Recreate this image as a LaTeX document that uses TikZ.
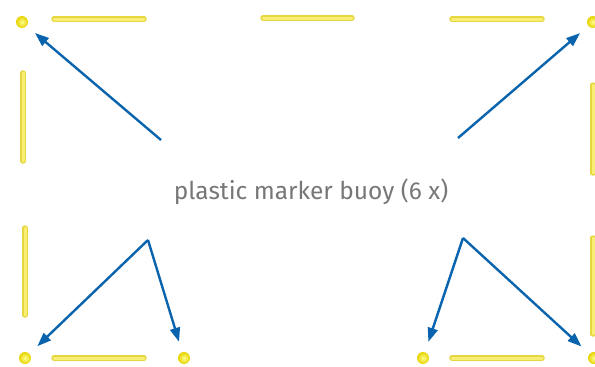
\documentclass[tikz,border=0pt]{standalone}
\usepackage{fontspec}
\setsansfont{Fira Sans}
\usetikzlibrary{arrows.meta}
\definecolor{arrcol}{HTML}{0A64AD}
\definecolor{barcol}{HTML}{E6D640}
\definecolor{barfill}{HTML}{F8EE74}
\definecolor{buoycol}{HTML}{E8D200}
\definecolor{labelcol}{HTML}{777777}

\begin{document}
\begin{tikzpicture}[
    x=1pt, y=-1pt,
    >={Triangle[length=14pt, width=10pt]},
    every node/.style={font=\sffamily},
    buoy/.style={
        circle, inner color=yellow!45!white, outer color=buoycol,
        minimum size=12pt, inner sep=0pt, outer sep=0pt,
    },
    bar/.style={
        line width=5.5pt, draw=barcol, line cap=round,
        postaction={draw=barfill, line width=3pt},
    },
    arr/.style={->, line width=2.4pt, draw=arrcol, shorten >=11pt},
    lbl/.style={font=\sffamily\fontsize{24.5}{28}\selectfont, text=labelcol},
]
\useasboundingbox (0,0) rectangle (595,367);

% === Floating lines ===
\draw[bar] (54,19) -- (144,19);
\draw[bar] (263,18) -- (352,18);
\draw[bar] (452,19) -- (542,19);
\draw[bar] (54,358) -- (144,358);
\draw[bar] (452,358) -- (542,358);
\draw[bar] (23,73) -- (23,161);
\draw[bar] (25,228) -- (25,315);
\draw[bar] (593,85) -- (593,173);
\draw[bar] (593,238) -- (593,334);

% === Buoys ===
\node[buoy] (bTL) at (22,22) {};
\node[buoy] (bTR) at (593,22) {};
\node[buoy] (bBL) at (25,358) {};
\node[buoy] (bBML) at (184,358) {};
\node[buoy] (bBMR) at (423,358) {};
\node[buoy] (bBR) at (594,358) {};

% === Label ===
\node[lbl] (label) at (311,192) {plastic marker buoy (6 x)};

% === Arrow origins ===
\coordinate (oTL) at (161,140);
\coordinate (oTR) at (458,138);
\coordinate (oBL) at (148,240);
\coordinate (oBR) at (463,238);

% === Arrows ===
\draw[arr] (oTL) -- (bTL);
\draw[arr] (oTR) -- (bTR);
\draw[arr] (oBL) -- (bBL);
\draw[arr] (oBL) -- (bBML);
\draw[arr] (oBR) -- (bBMR);
\draw[arr] (oBR) -- (bBR);

\end{tikzpicture}
\end{document}
